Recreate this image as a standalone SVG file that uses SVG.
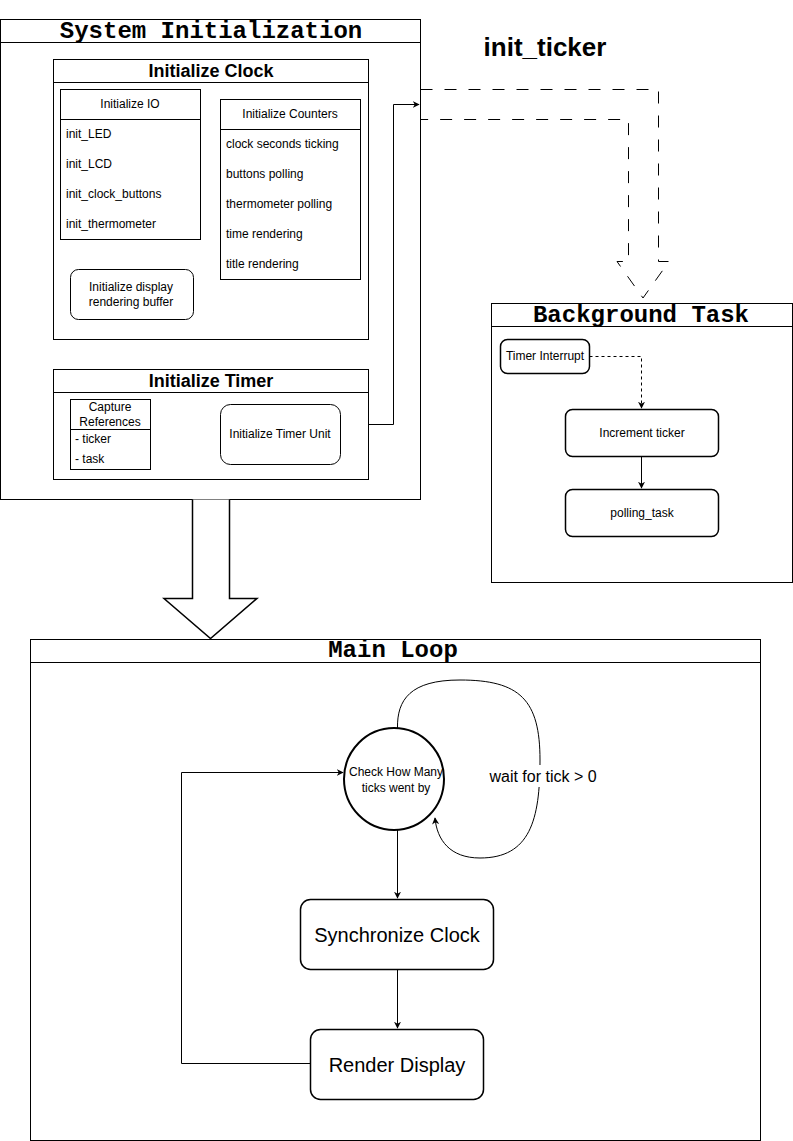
<svg xmlns="http://www.w3.org/2000/svg" width="793" height="1141" viewBox="0 0 793 1141">
<defs>
<style>
.box{fill:#fff;stroke:#000;stroke-width:1}
.rb{fill:#fff;stroke:#000;stroke-width:1.5}
.ln{fill:none;stroke:#000;stroke-width:1}
.mono{font-family:"Liberation Mono","Courier New",monospace;font-weight:bold;font-size:24px;fill:#000;text-anchor:middle}
.hb{font-family:"Liberation Sans",Arial,sans-serif;font-weight:bold;font-size:18px;fill:#000;text-anchor:middle}
.t{font-family:"Liberation Sans",Arial,sans-serif;font-size:12px;fill:#000}
.c{text-anchor:middle}
.big{font-family:"Liberation Sans",Arial,sans-serif;font-size:20px;fill:#000;text-anchor:middle}
</style>
<marker id="ah" viewBox="0 0 10 10" refX="9" refY="5" markerWidth="7" markerHeight="7" orient="auto" markerUnits="userSpaceOnUse">
<path d="M0,0 L10,5 L0,10 L3,5 Z" fill="#000"/>
</marker>
</defs>
<rect width="793" height="1141" fill="#fff"/>

<g id="system-initialization">
<rect class="box" x="0.5" y="19.5" width="420" height="480"/>
<line class="ln" x1="0.5" y1="42.5" x2="420.5" y2="42.5"/>
<text class="mono" x="211" y="38">System Initialization</text>
</g>

<g id="initialize-clock">
<rect class="box" x="53.5" y="59.5" width="315" height="280"/>
<line class="ln" x1="53.5" y1="82.5" x2="368.5" y2="82.5"/>
<text class="hb" x="211" y="77">Initialize Clock</text>
</g>

<g id="initialize-io">
<rect class="box" x="60.5" y="89.5" width="140" height="150"/>
<line class="ln" x1="60.5" y1="119.5" x2="200.5" y2="119.5"/>
<text class="t c" x="130" y="108">Initialize IO</text>
<text class="t" x="66" y="138">init_LED</text>
<text class="t" x="66" y="168">init_LCD</text>
<text class="t" x="66" y="198">init_clock_buttons</text>
<text class="t" x="66" y="228">init_thermometer</text>
</g>

<g id="initialize-counters">
<rect class="box" x="220.5" y="99.5" width="140" height="180"/>
<line class="ln" x1="220.5" y1="129.5" x2="360.5" y2="129.5"/>
<text class="t c" x="290" y="118">Initialize Counters</text>
<text class="t" x="226" y="148">clock seconds ticking</text>
<text class="t" x="226" y="178">buttons polling</text>
<text class="t" x="226" y="208">thermometer polling</text>
<text class="t" x="226" y="238">time rendering</text>
<text class="t" x="226" y="268">title rendering</text>
</g>

<g id="init-display-buffer">
<rect class="box" x="70.5" y="269.5" width="123" height="50" rx="8"/>
<text class="t c" x="131" y="291">Initialize display</text>
<text class="t c" x="131" y="306">rendering buffer</text>
</g>

<g id="initialize-timer">
<rect class="box" x="53.5" y="369.5" width="315" height="110"/>
<line class="ln" x1="53.5" y1="392.5" x2="368.5" y2="392.5"/>
<text class="hb" x="211" y="387">Initialize Timer</text>
</g>

<g id="capture-references">
<rect class="box" x="70.5" y="399.5" width="80" height="70"/>
<line class="ln" x1="70.5" y1="429.5" x2="150.5" y2="429.5"/>
<text class="t c" x="110" y="411">Capture</text>
<text class="t c" x="110" y="426">References</text>
<text class="t" x="75" y="443">- ticker</text>
<text class="t" x="75" y="463">- task</text>
</g>

<g id="init-timer-unit">
<rect class="box" x="220.5" y="404.5" width="120" height="60" rx="10"/>
<text class="t c" x="280" y="438">Initialize Timer Unit</text>
</g>

<g id="init-ticker-label">
<text font-family="'Liberation Sans',Arial,sans-serif" font-weight="bold" font-size="26" x="545" y="56" text-anchor="middle">init_ticker</text>
</g>

<g id="background-task">
<rect class="box" x="491.5" y="303.5" width="301" height="279"/>
<line class="ln" x1="491.5" y1="326.5" x2="792.5" y2="326.5"/>
<text class="mono" x="641" y="322">Background Task</text>
</g>

<g id="timer-interrupt">
<rect class="rb" x="500.5" y="339.5" width="89" height="34" rx="7"/>
<text class="t c" x="545" y="360">Timer Interrupt</text>
</g>

<g id="increment-ticker">
<rect class="rb" x="565.5" y="409.5" width="153" height="47" rx="7"/>
<text class="t c" x="642" y="437">Increment ticker</text>
</g>

<g id="polling-task">
<rect class="rb" x="565.5" y="489.5" width="153" height="47" rx="7"/>
<text class="t c" x="642" y="517">polling_task</text>
</g>

<g id="main-loop">
<rect class="box" x="30.5" y="639.5" width="730" height="501"/>
<line class="ln" x1="30.5" y1="662.5" x2="760.5" y2="662.5"/>
<text class="mono" x="393" y="657">Main Loop</text>
</g>

<g id="check-ticks">
<ellipse cx="394" cy="779" rx="50" ry="51" fill="#fff" stroke="#000" stroke-width="2"/>
<text class="t c" x="396" y="776">Check How Many</text>
<text class="t c" x="396" y="792">ticks went by</text>
</g>

<g id="synchronize-clock">
<rect class="rb" x="300.5" y="899.5" width="193" height="70" rx="10"/>
<text class="big" x="397" y="942">Synchronize Clock</text>
</g>

<g id="render-display">
<rect class="rb" x="310.5" y="1029.5" width="173" height="70" rx="10"/>
<text class="big" x="397" y="1072">Render Display</text>
</g>

<g id="connectors">
<path class="ln" d="M368.5,424.5 H393.5 V104.5 H419" marker-end="url(#ah)"/>
<path d="M420.5,89.5 H658.5 V261.5 H669 L643,298 L617,261.5 H628.5 V119.5 H420.5" fill="none" stroke="#000" stroke-width="1" stroke-dasharray="12 12"/>
<path d="M589.5,356.5 H641.5 V408" fill="none" stroke="#000" stroke-width="1" stroke-dasharray="3 3" marker-end="url(#ah)"/>
<path class="ln" d="M641.5,456.5 V488" marker-end="url(#ah)"/>
<path d="M192.5,499.5 V598.5 H164 L210.5,638.5 L257,598.5 H229.5 V499.5" fill="#fff" stroke="#000" stroke-width="1.5"/>
<path class="ln" d="M397.5,728 C397,700 410,680 460,680 C520,680 540,700 540,760 C540,820 530,858 480,858 C450,858 437,840 435,818" marker-end="url(#ah)"/>
<rect x="488" y="765" width="112" height="22" fill="#fff"/>
<text font-family="'Liberation Sans',Arial,sans-serif" font-size="16" x="543" y="782" text-anchor="middle">wait for tick &gt; 0</text>
<path class="ln" d="M397.5,830 V898" marker-end="url(#ah)"/>
<path class="ln" d="M397.5,969.5 V1028" marker-end="url(#ah)"/>
<path class="ln" d="M310.5,1063.5 H181.5 V772.5 H343" marker-end="url(#ah)"/>
</g>
</svg>
